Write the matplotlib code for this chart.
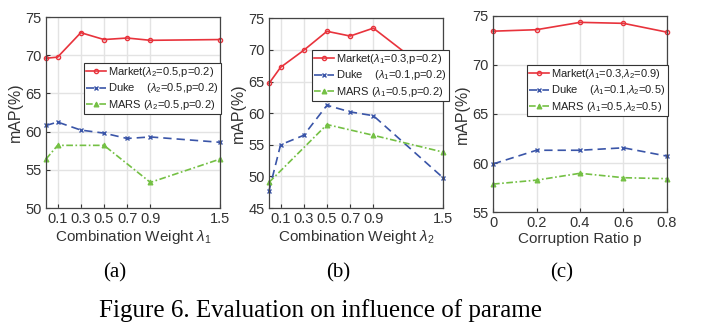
import matplotlib
matplotlib.use("Agg")
import matplotlib.pyplot as plt

# ---- data ----
lam = [0, 0.1, 0.3, 0.5, 0.7, 0.9, 1.5]
a_market = [69.6, 69.75, 72.95, 72.05, 72.25, 71.95, 72.05]
a_duke = [60.8, 61.25, 60.2, 59.8, 59.1, 59.3, 58.6]
a_mars_x = [0, 0.1, 0.5, 0.9, 1.5]
a_mars = [56.4, 58.2, 58.2, 53.35, 56.4]

b_market = [64.7, 67.25, 69.95, 72.95, 72.2, 73.45, 64.95]
b_duke = [47.7, 55.0, 56.5, 61.25, 60.2, 59.6, 49.8]
b_mars_x = [0, 0.5, 0.9, 1.5]
b_mars = [49.05, 58.2, 56.5, 53.85]

p = [0, 0.2, 0.4, 0.6, 0.8]
c_market = [73.45, 73.6, 74.35, 74.25, 73.35]
c_duke = [59.9, 61.3, 61.3, 61.55, 60.7]
c_mars = [57.85, 58.25, 58.95, 58.5, 58.4]

lam_ticks = [0.1, 0.3, 0.5, 0.7, 0.9, 1.5]
lam_ticklabels = ["0.1", "0.3", "0.5", "0.7", "0.9", "1.5"]
p_ticks = [0, 0.2, 0.4, 0.6, 0.8]
p_ticklabels = ["0", "0.2", "0.4", "0.6", "0.8"]

leg_a = [r"Market($\lambda_2$=0.5,p=0.2)", r"Duke    ($\lambda_2$=0.5,p=0.2)", r"MARS ($\lambda_2$=0.5,p=0.2)"]
leg_b = [r"Market($\lambda_1$=0.3,p=0.2)", r"Duke    ($\lambda_1$=0.1,p=0.2)", r"MARS ($\lambda_1$=0.5,p=0.2)"]
leg_c = [r"Market($\lambda_1$=0.3,$\lambda_2$=0.9)", r"Duke    ($\lambda_1$=0.1,$\lambda_2$=0.5)", r"MARS ($\lambda_1$=0.5,$\lambda_2$=0.5)"]

plt.rcParams['font.family'] = ['Liberation Sans', 'DejaVu Sans']
plt.rcParams['mathtext.fontset'] = 'custom'
plt.rcParams['mathtext.rm'] = 'Liberation Sans'
plt.rcParams['mathtext.it'] = 'Liberation Sans:italic'

RED = "#e8333c"
BLUE = "#3a55a8"
GREEN = "#74c044"
TXT = "#333333"

fig = plt.figure(figsize=(7.11, 3.31), dpi=100)

def style(ax, ylim, yticks, xlim, xticks, xticklabels, xlabel, ylabel=True):
    ax.set_xlim(*xlim)
    ax.set_ylim(*ylim)
    ax.set_yticks(yticks)
    ax.set_xticks(xticks)
    ax.set_xticklabels(xticklabels)
    ax.grid(True, color="#e3e3e3", linewidth=1.0)
    ax.set_axisbelow(True)
    ax.tick_params(direction="in", length=3, labelsize=10.5, colors=TXT, pad=3)
    for s in ax.spines.values():
        s.set_color("#444444")
        s.set_linewidth(0.9)
    ax.set_xlabel(xlabel, fontsize=11, color=TXT, labelpad=1)
    if ylabel:
        ax.set_ylabel("mAP(%)", fontsize=11.5, color=TXT, labelpad=2)

def draw(ax, xm, m, xd, d, xs, s, labels, legpos):
    l1, = ax.plot(xm, m, color=RED, lw=1.2, marker="o", ms=3, mfc="none", mew=1.0, clip_on=False)
    l2, = ax.plot(xd, d, color=BLUE, lw=1.2, ls=(0, (5, 3)), marker="x", ms=3, mew=1.0, clip_on=False)
    l3, = ax.plot(xs, s, color=GREEN, lw=1.2, ls=(0, (4, 1.5, 1, 1.5)), marker="^", ms=3.5, mew=0.8, clip_on=False)
    leg = ax.legend([l1, l2, l3], labels, loc="upper left", bbox_to_anchor=legpos,
                    bbox_transform=fig.transFigure, fontsize=8, frameon=True, fancybox=False,
                    edgecolor="#333333", framealpha=1, handlelength=1.8, handletextpad=0.2,
                    borderpad=0.2, labelspacing=0.2, borderaxespad=0)
    leg.get_frame().set_linewidth(0.8)
    for t in leg.get_texts():
        t.set_color("#222222")

ax1 = fig.add_axes([0.0647, 0.3716, 0.2447, 0.577])
draw(ax1, lam, a_market, lam, a_duke, a_mars_x, a_mars, leg_a, (84/711, 1 - 63/331))
style(ax1, (50, 75), [50, 55, 60, 65, 70, 75], (0, 1.5), lam_ticks, lam_ticklabels,
      r"Combination Weight $\lambda_1$")

ax2 = fig.add_axes([0.3783, 0.3716, 0.2447, 0.5730])
draw(ax2, lam, b_market, lam, b_duke, b_mars_x, b_mars, leg_b, (312/711, 1 - 50/331))
style(ax2, (45, 75), [45, 50, 55, 60, 65, 70, 75], (0, 1.5), lam_ticks, lam_ticklabels,
      r"Combination Weight $\lambda_2$")

ax3 = fig.add_axes([0.6934, 0.3595, 0.2447, 0.5922])
draw(ax3, p, c_market, p, c_duke, p, c_mars, leg_c, (527/711, 1 - 65/331))
style(ax3, (55, 75), [55, 60, 65, 70, 75], (0, 0.8), p_ticks, p_ticklabels,
      "Corruption Ratio p")

serif = ['Liberation Serif', 'DejaVu Serif']
fig.text(115/711, 1 - 273/331, "(a)", ha="center", va="center", fontsize=15, family=serif)
fig.text(338/711, 1 - 273/331, "(b)", ha="center", va="center", fontsize=15, family=serif)
fig.text(562/711, 1 - 273/331, "(c)", ha="center", va="center", fontsize=15, family=serif)
fig.text(99/711, 1 - 311/331, "Figure 6. Evaluation on influence of parame", ha="left", va="center",
         fontsize=18, family=serif)

fig.savefig("out.png", dpi=100)
